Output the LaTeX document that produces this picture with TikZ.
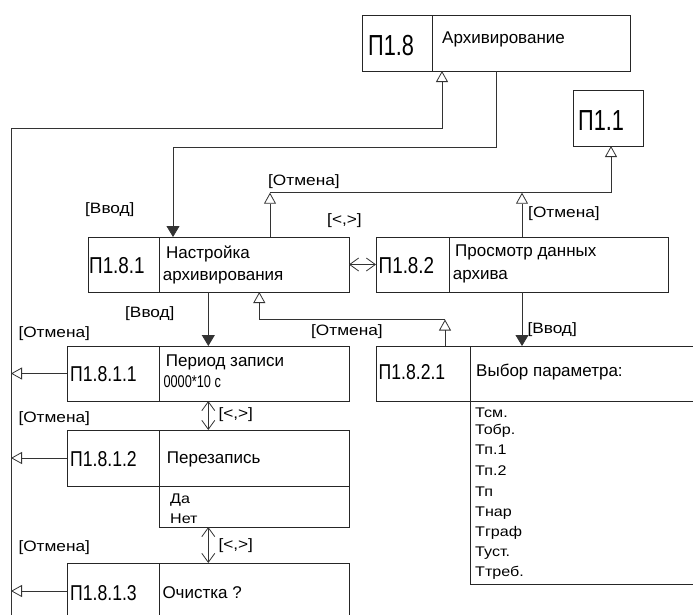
\documentclass[tikz,border=0pt]{standalone}
\usepackage{fontspec}
\setmainfont{Liberation Sans}
\newfontfamily\idfontA[FakeStretch=0.75]{Liberation Sans}
\newfontfamily\idfontB[FakeStretch=0.82]{Liberation Sans}
\newfontfamily\lblfont[FakeStretch=1.15]{Liberation Sans}
\usetikzlibrary{arrows.meta,calc}
\begin{document}
\begin{tikzpicture}[x=1pt,y=-1pt,
  box/.style={draw=black!85, line width=1pt, inner sep=0pt, outer sep=0pt, anchor=north west},
  divider/.style={draw=black!85, line width=1pt},
  conn/.style={draw=black!80, line width=0.8pt},
  openend/.style={conn, -{Triangle[open, length=11pt, width=12pt]}},
  fillend/.style={conn, -{Triangle[length=11pt, width=13pt]}},
  barbs/.style={conn, {Straight Barb[length=9pt, width=13pt]}-{Straight Barb[length=9pt, width=13pt]}},
  bigid/.style={inner sep=0pt, anchor=base west, font=\idfontA\fontsize{29}{30}\selectfont},
  midid/.style={inner sep=0pt, anchor=base west, font=\idfontB\fontsize{23}{24}\selectfont},
  smallid/.style={inner sep=0pt, anchor=base west, font=\idfontB\fontsize{21.5}{22}\selectfont},
  btext/.style={inner sep=0pt, anchor=base west, font=\fontsize{17}{18}\selectfont},
  numtext/.style={inner sep=0pt, anchor=base west, font=\idfontA\fontsize{17}{18}\selectfont},
  lbl/.style={inner sep=0pt, anchor=west, font=\lblfont\fontsize{15}{16}\selectfont},
  item/.style={inner sep=0pt, anchor=base west, font=\lblfont\fontsize{14}{15}\selectfont}
]
\useasboundingbox (0,0) rectangle (693,614);
\clip (0,0) rectangle (693,614);
\fill[white] (0,0) rectangle (693,614);

% boxes
\node[box, minimum width=268pt, minimum height=56pt] (p18) at (362,15) {};
\draw[divider] ($(p18.north west)+(70,0)$) -- ($(p18.south west)+(70,0)$);
\node[box, minimum width=70pt, minimum height=56pt] (p11) at (573,90) {};

\node[box, minimum width=261pt, minimum height=55pt] (p181) at (88,237) {};
\draw[divider] ($(p181.north west)+(71,0)$) -- ($(p181.south west)+(71,0)$);
\node[box, minimum width=292pt, minimum height=55pt] (p182) at (376,237) {};
\draw[divider] ($(p182.north west)+(73,0)$) -- ($(p182.south west)+(73,0)$);

\node[box, minimum width=282pt, minimum height=55pt] (p1811) at (67,346) {};
\draw[divider] ($(p1811.north west)+(92,0)$) -- ($(p1811.south west)+(92,0)$);
\node[box, minimum width=282pt, minimum height=56pt] (p1812) at (67,430) {};
\draw[divider] ($(p1812.north west)+(92,0)$) -- ($(p1812.south west)+(92,0)$);
\node[box, minimum width=190pt, minimum height=41pt] (p1812s) at (159,486) {};
\node[box, minimum width=282pt, minimum height=56pt] (p1813) at (67,563) {};
\draw[divider] ($(p1813.north west)+(92,0)$) -- ($(p1813.south west)+(92,0)$);

\node[box, minimum width=330pt, minimum height=55pt] (p1821) at (376,346) {};
\draw[divider] ($(p1821.north west)+(94,0)$) -- ($(p1821.south west)+(94,0)$);
\node[box, minimum width=230pt, minimum height=183pt] (p1821s) at (470,401) {};

% texts
\node[bigid] (t18) at (368,55) {П1.8};
\node[btext] (t18a) at (442,43.3) {Архивирование};
\node[bigid] (t11) at (578,130) {П1.1};

\node[midid] (t181) at (89,273.3) {П1.8.1};
\node[btext] (t181a) at (166,258.3) {Настройка};
\node[btext] (t181b) at (162.7,280) {архивирования};

\node[midid] (t182) at (378.5,273.3) {П1.8.2};
\node[btext] (t182a) at (455,256.7) {Просмотр данных};
\node[btext] (t182b) at (452.7,279.3) {архива};

\node[smallid] (t1811) at (70,381.7) {П1.8.1.1};
\node[btext] (t1811a) at (165.7,366.7) {Период записи};
\node[numtext] (t1811b) at (163.3,387.3) {0000*10 с};

\node[smallid] (t1812) at (70,466.7) {П1.8.1.2};
\node[btext] (t1812a) at (166.7,463.3) {Перезапись};
\node[item] (t1812b) at (170,503) {Да};
\node[item] (t1812c) at (170,523) {Нет};

\node[smallid] (t1813) at (70,600) {П1.8.1.3};
\node[btext] (t1813a) at (162.3,598.3) {Очистка ?};

\node[smallid] (t1821) at (378.5,379.5) {П1.8.2.1};
\node[btext] (t1821a) at (476,376.7) {Выбор параметра:};

\node[item] (i1) at (475,417.7) {Тсм.};
\node[item] (i2) at (475,434) {Тобр.};
\node[item] (i3) at (475,454.3) {Тп.1};
\node[item] (i4) at (475,475) {Тп.2};
\node[item] (i5) at (475,496.7) {Тп};
\node[item] (i6) at (475,516.7) {Тнар};
\node[item] (i7) at (475,536.7) {Тграф};
\node[item] (i8) at (475,556.7) {Туст.};
\node[item] (i9) at (475,576.7) {Ттреб.};

% connectors
\coordinate (busT) at (11,128.3);
\coordinate (busB) at (11,640);
\draw[openend] (busB) -- (busT) -| ($(p18.south west)+(80,0)$);
\draw[openend] (p1811.west) -- (p1811.west -| busT);
\draw[openend] (p1812.west) -- (p1812.west -| busT);
\draw[openend] (p1813.west) -- (p1813.west -| busT);

\draw[fillend] ($(p18.south west)+(134,0)$) -- ++(0,76.5) -| ($(p181.north west)+(85,0)$);

\coordinate (cancelbus) at (270,192.7);
\draw[openend] ($(p181.north west)+(182,0)$) -- (cancelbus);
\draw[openend] (cancelbus) -| ($(p11.south west)+(38,0)$);
\coordinate (c182t) at ($(p182.north west)+(146,0)$);
\draw[openend] (c182t) -- (c182t |- cancelbus);

\draw[barbs] (p181.east) -- (p182.west);

\coordinate (c181b) at ($(p181.south west)+(120.3,0)$);
\draw[fillend] (c181b) -- (c181b |- p1811.north);

\coordinate (c1821t) at ($(p1821.north west)+(69,0)$);
\coordinate (cb2) at ($(c1821t)+(0,-26.5)$);
\draw[openend] (c1821t) -- (cb2);
\draw[openend] (cb2) -| ($(p181.south west)+(171.3,0)$);

\coordinate (c182b) at ($(p182.south west)+(146,0)$);
\draw[fillend] (c182b) -- (c182b |- p1821.north);

\coordinate (c1811b) at ($(p1811.south west)+(141.3,0)$);
\draw[barbs] (c1811b) -- (c1811b |- p1812.north);
\draw[barbs] (c1811b |- p1812s.south) -- (c1811b |- p1813.north);

% labels
\node[lbl] (l1) at (85,210) {[Ввод]};
\node[lbl] (l2) at (268,181.7) {[Отмена]};
\node[lbl] (l3) at (327,221) {[<,>]};
\node[lbl] (l4) at (528,213.3) {[Отмена]};
\node[lbl] (l5) at (125,313.3) {[Ввод]};
\node[lbl] (l6) at (311,331.5) {[Отмена]};
\node[lbl] (l7) at (527.3,330) {[Ввод]};
\node[lbl] (l8) at (18.3,333.3) {[Отмена]};
\node[lbl] (l9) at (18.3,418.3) {[Отмена]};
\node[lbl] (l10) at (18.3,547.3) {[Отмена]};
\node[lbl] (l11) at (218.3,415) {[<,>]};
\node[lbl] (l12) at (218.3,546) {[<,>]};
\end{tikzpicture}
\end{document}
